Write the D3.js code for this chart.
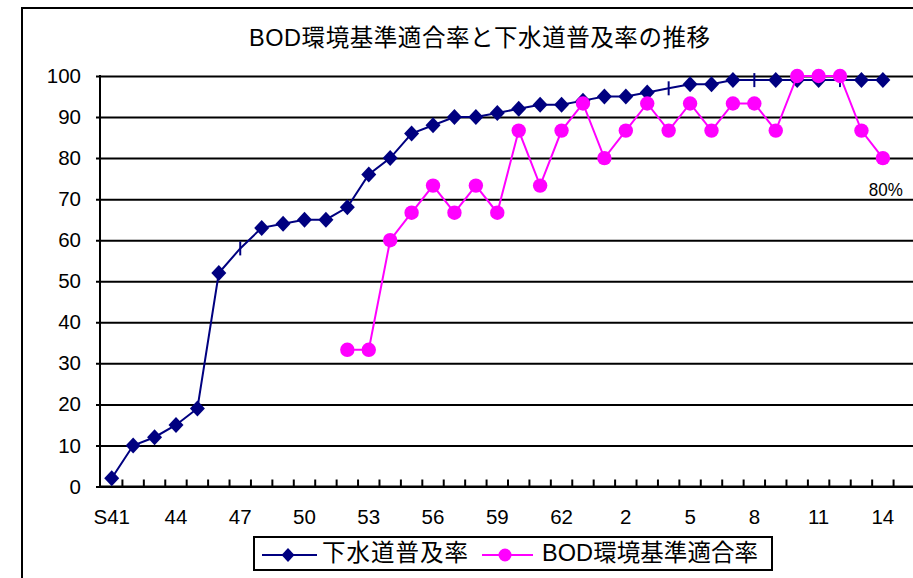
<!DOCTYPE html>
<html>
<head>
<meta charset="utf-8">
<script src="https://cdn.jsdelivr.net/npm/d3@7"></script>
<style>
  html, body { margin: 0; padding: 0; background: #fff; }
  svg { display: block; }
  text { font-family: "Liberation Sans", Arial, "Noto Sans CJK JP", sans-serif; fill: #000; }
</style>
</head>
<body>
<svg id="chart" width="913" height="578"></svg>
<script>
// Fiscal years: Showa 41–63, then Heisei 1–15 (H15 left empty)
const categories = [
  "S41","S42","S43","S44","S45","S46","S47","S48","S49","S50","S51","S52",
  "S53","S54","S55","S56","S57","S58","S59","S60","S61","S62","S63",
  "H1","H2","H3","H4","H5","H6","H7","H8","H9","H10","H11","H12","H13","H14","H15"
];
// Axis labels shown on every third year
const tickLabels = ["S41","44","47","50","53","56","59","62","2","5","8","11","14"];
const yTicks = [0,10,20,30,40,50,60,70,80,90,100];

// 下水道普及率 (%), S41 .. H14
const sewerRate = [
  2,10,12,15,19,52,58,63,64,65,65,68,76,80,86,88,90,90,91,92,93,93,94,
  95,95,96,97,98,98,99,99,99,99,99,99,99,99
];
// BOD環境基準適合率 (%), measured from S52 onward
const bodRate = [
  null,null,null,null,null,null,null,null,null,null,null,
  33.3,33.3,60,66.7,73.3,66.7,73.3,66.7,86.7,73.3,86.7,93.3,
  80,86.7,93.3,86.7,93.3,86.7,93.3,93.3,86.7,100,100,100,86.7,80
];
const titleText = "BOD環境基準適合率と下水道普及率の推移";
const seriesNames = ["下水道普及率", "BOD環境基準適合率"];

const svg = d3.select("#chart");
const NAVY = "#000080", MAGENTA = "#FF00FF";

// outer chart frame
svg.append("rect").attr("x", 22).attr("y", 8).attr("width", 1000).attr("height", 1000)
  .attr("fill", "none").attr("stroke", "#000").attr("stroke-width", 2);

// title
svg.append("text").attr("x", 249).attr("y", 46)
  .attr("font-size", 23.5).attr("textLength", 461).attr("lengthAdjust", "spacing")
  .text(titleText);

const x = d3.scaleBand().domain(categories).range([101, 915]).padding(0);
const y = d3.scaleLinear().domain([0, 100]).range([486.5, 76]);
const cx = c => x(c) + x.bandwidth() / 2;

// horizontal gridlines with outside ticks
const yAxis = d3.axisLeft(y).tickValues(yTicks).tickSize(-(915 - 100)).tickSizeOuter(0).tickPadding(19);
const gy = svg.append("g").attr("transform", "translate(100,0)").call(yAxis);
gy.select(".domain").remove();
gy.selectAll(".tick line").attr("x1", -4).attr("stroke", "#000").attr("stroke-width", 2);
gy.selectAll(".tick text").attr("font-size", 20.5).attr("font-family", "Liberation Sans, Arial, sans-serif").attr("fill", "#000");

// y axis line
svg.append("line").attr("x1", 100).attr("x2", 100).attr("y1", 75).attr("y2", y(0) + 1)
  .attr("stroke", "#000").attr("stroke-width", 2);

// x axis line + inside ticks at category boundaries
svg.append("line").attr("x1", 99).attr("x2", 915).attr("y1", y(0)).attr("y2", y(0))
  .attr("stroke", "#000").attr("stroke-width", 2);
svg.append("g").selectAll("line").data(categories.slice(1)).join("line")
  .attr("x1", d => x(d)).attr("x2", d => x(d))
  .attr("y1", y(0)).attr("y2", y(0) - 7)
  .attr("stroke", "#000").attr("stroke-width", 2);

// x tick labels
svg.append("g").selectAll("text").data(tickLabels).join("text")
  .attr("x", (d, i) => cx(categories[i * 3]))
  .attr("y", 524)
  .attr("text-anchor", "middle").attr("font-size", 20.5)
  .text(d => d);

// sewer series
const sewerPts = sewerRate.map((v, i) => ({ c: categories[i], v }));
const line = d3.line().x(d => cx(d.c)).y(d => y(d.v)).defined(d => d.v != null);
svg.append("path").datum(sewerPts).attr("d", line)
  .attr("fill", "none").attr("stroke", NAVY).attr("stroke-width", 2);

const plusMarkerCats = new Set(["S47", "H4", "H8", "H12"]);
const diamond = (px, py, w, h) => `M${px},${py - h}L${px + w},${py}L${px},${py + h}L${px - w},${py}Z`;
svg.append("g").selectAll("path").data(sewerPts.filter(d => !plusMarkerCats.has(d.c))).join("path")
  .attr("d", d => diamond(cx(d.c), y(d.v), 7.5, 8)).attr("fill", NAVY);
svg.append("g").selectAll("line").data(sewerPts.filter(d => plusMarkerCats.has(d.c))).join("line")
  .attr("x1", d => cx(d.c)).attr("x2", d => cx(d.c))
  .attr("y1", d => y(d.v) - 7).attr("y2", d => y(d.v) + 7)
  .attr("stroke", NAVY).attr("stroke-width", 2);

// BOD series
const bodPts = bodRate.map((v, i) => ({ c: categories[i], v })).filter(d => d.v != null);
svg.append("path").datum(bodPts).attr("d", line)
  .attr("fill", "none").attr("stroke", MAGENTA).attr("stroke-width", 2);
svg.append("g").selectAll("circle").data(bodPts).join("circle")
  .attr("cx", d => cx(d.c)).attr("cy", d => y(d.v)).attr("r", 7.2).attr("fill", MAGENTA);

// value label on the latest BOD point
const last = bodPts[bodPts.length - 1];
svg.append("text").attr("x", cx(last.c) + 3).attr("y", y(last.v) + 38)
  .attr("text-anchor", "middle").attr("font-size", 19).attr("textLength", 34).attr("lengthAdjust", "spacingAndGlyphs")
  .text(d3.format("d")(last.v) + "%");

// legend
const lg = svg.append("g");
lg.append("rect").attr("x", 254).attr("y", 537).attr("width", 518).attr("height", 33)
  .attr("fill", "#fff").attr("stroke", "#000").attr("stroke-width", 2);
lg.append("line").attr("x1", 262).attr("x2", 317).attr("y1", 555).attr("y2", 555)
  .attr("stroke", NAVY).attr("stroke-width", 2);
lg.append("path").attr("d", diamond(288, 555, 6.5, 7)).attr("fill", NAVY);
lg.append("text").attr("x", 322).attr("y", 561).attr("font-size", 23.5)
  .attr("textLength", 146).attr("lengthAdjust", "spacing").text(seriesNames[0]);
lg.append("line").attr("x1", 482).attr("x2", 533).attr("y1", 555).attr("y2", 555)
  .attr("stroke", MAGENTA).attr("stroke-width", 2);
lg.append("circle").attr("cx", 505).attr("cy", 555).attr("r", 6.5).attr("fill", MAGENTA);
lg.append("text").attr("x", 542).attr("y", 561).attr("font-size", 23.5)
  .attr("textLength", 216).attr("lengthAdjust", "spacing").text(seriesNames[1]);
</script>
</body>
</html>
